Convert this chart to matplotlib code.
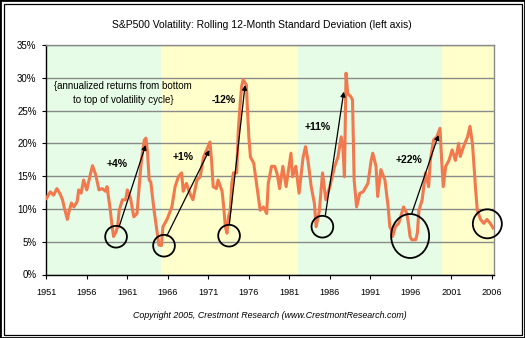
import matplotlib
matplotlib.use("Agg")
import matplotlib.pyplot as plt
from matplotlib.patches import Ellipse, Rectangle

plt.rcParams['font.family'] = ['Liberation Sans', 'DejaVu Sans']

# ---- data ----
years = [1951.0, 1951.5, 1951.9, 1952.3, 1952.7, 1953.0, 1953.2, 1953.6, 1953.8, 1954.1,
         1954.4, 1954.8, 1955.0, 1955.3, 1955.6, 1956.0, 1956.5, 1956.7, 1956.9, 1957.1,
         1957.5, 1957.9, 1958.3, 1958.5, 1958.9, 1959.1, 1959.3, 1959.6, 1959.8, 1960.0,
         1960.4, 1960.8, 1961.0, 1961.4, 1961.8, 1962.2, 1962.4, 1962.6, 1962.8, 1963.1,
         1963.3, 1963.5, 1963.7, 1963.9, 1964.3, 1964.7, 1964.9, 1965.2, 1965.4, 1965.9,
         1966.5, 1966.9, 1967.3, 1967.7, 1967.9, 1968.3, 1968.7, 1969.1, 1969.6, 1970.0,
         1970.4, 1970.8, 1971.2, 1971.4, 1971.6, 1972.0, 1972.2, 1972.7, 1972.9, 1973.1,
         1973.3, 1973.5, 1973.7, 1973.9, 1974.1, 1974.5, 1974.7, 1974.9, 1975.1, 1975.3,
         1975.7, 1975.8, 1976.0, 1976.2, 1976.6, 1977.0, 1977.4, 1977.8, 1978.2, 1978.4,
         1978.8, 1979.2, 1979.5, 1979.8, 1980.2, 1980.6, 1981.2, 1981.4, 1981.8, 1982.2,
         1982.7, 1983.0, 1983.3, 1983.7, 1984.1, 1984.3, 1984.7, 1985.1, 1985.5, 1986.0,
         1986.6, 1987.0, 1987.4, 1987.6, 1987.8, 1988.0, 1988.2, 1988.6, 1988.8, 1989.0,
         1989.3, 1989.7, 1990.1, 1990.7, 1991.1, 1991.3, 1991.7, 1991.9, 1992.3, 1992.8,
         1993.2, 1993.4, 1993.6, 1993.75, 1994.1, 1994.5, 1995.1, 1995.5, 1995.7, 1995.9,
         1996.1, 1996.6, 1996.8, 1997.0, 1997.4, 1997.8, 1998.2, 1998.4, 1998.8, 1999.2,
         1999.6, 1999.8, 2000.0, 2000.3, 2000.7, 2001.1, 2001.5, 2001.9, 2002.1, 2002.5,
         2003.0, 2003.3, 2003.6, 2003.8, 2004.0, 2004.2, 2004.6, 2005.0, 2005.4, 2005.8,
         2006.15]
volatility = [11.6, 12.6, 12.1, 13.1, 12.3, 11.4, 10.3, 8.4, 9.6, 10.9,
              10.3, 11.1, 12.9, 12.4, 14.4, 12.9, 15.6, 16.6, 15.9, 15.2,
              12.9, 13.1, 12.7, 13.4, 9.8, 7.6, 5.8, 6.5, 7.3, 9.8,
              11.4, 11.4, 12.9, 11.6, 8.8, 9.3, 12.4, 15.5, 18.0, 20.5,
              20.8, 18.5, 14.4, 14.1, 9.8, 6.3, 4.5, 4.4, 7.3, 8.4,
              10.3, 13.4, 14.9, 15.5, 12.7, 13.9, 12.4, 11.4, 14.4, 14.9,
              17.9, 19.0, 20.2, 17.4, 13.4, 13.1, 14.4, 12.7, 10.3, 7.3,
              6.3, 8.9, 9.7, 13.9, 15.5, 15.5, 22.0, 25.5, 28.6, 29.7,
              28.9, 26.0, 21.0, 17.9, 17.0, 13.4, 9.8, 10.3, 9.3, 13.9,
              16.5, 16.5, 15.3, 13.1, 16.5, 13.4, 18.5, 14.9, 16.5, 12.4,
              17.9, 19.5, 17.4, 13.4, 10.8, 7.3, 9.7, 15.5, 11.4, 13.4,
              16.5, 17.9, 21.0, 19.5, 14.9, 30.7, 27.6, 27.1, 26.6, 14.4,
              10.3, 12.4, 12.6, 13.9, 17.4, 18.5, 16.5, 11.9, 16.0, 14.4,
              10.3, 7.3, 6.8, 5.8, 7.3, 7.8, 10.3, 9.3, 7.8, 5.8,
              5.3, 5.3, 6.3, 9.8, 11.4, 15.5, 13.4, 17.4, 20.5, 21.0,
              22.3, 17.4, 13.4, 16.5, 17.4, 19.0, 17.4, 20.0, 18.0, 19.5,
              21.0, 22.6, 20.0, 16.5, 12.9, 9.8, 8.4, 7.8, 8.4, 7.8,
              7.1]

x_ticks = [1951, 1956, 1961, 1966, 1971, 1976, 1981, 1986, 1991, 1996, 2001, 2006]
y_ticks = [0, 5, 10, 15, 20, 25, 30, 35]

# secular market periods (background bands)
band_edges = [1951, 1965.13, 1982.12, 1999.86, 2006.3]
band_colors = ['#E6FCE6', '#FFFFCC', '#E6FCE6', '#FFFFCC']

# annotations: (label, x, y)
return_labels = [('+4%', 1959.69, 16.9), ('+1%', 1967.88, 17.9), ('-12%', 1972.94, 26.6),
                 ('+11%', 1984.51, 22.45), ('+22%', 1995.79, 17.5)]
# arrows: (tail_x, tail_y, head_x, head_y)
arrows = [(1959.99, 7.29, 1963.27, 19.75), (1965.87, 5.87, 1971.13, 18.99),
          (1973.60, 7.70, 1975.54, 28.9), (1985.45, 9.07, 1987.72, 27.88),
          (1996.12, 9.33, 1999.41, 21.27)]
# circles: (center_x, center_y, width_years, height_pct)
circles = [(1959.61, 5.76, 2.68, 3.31), (1965.53, 4.39, 2.68, 3.31),
           (1973.56, 5.92, 2.68, 3.31), (1985.08, 7.29, 2.68, 3.31),
           (1995.91, 5.87, 4.69, 6.71), (2005.44, 7.73, 3.58, 4.42)]

# ---- figure ----
W, H = 525, 338
fig = plt.figure(figsize=(W / 100, H / 100), dpi=100)
fig.patch.set_facecolor('white')

L, R, T, B = 46.3, 494.3, 45.0, 274.5
ax = fig.add_axes([L / W, (H - B) / H, (R - L) / W, (B - T) / H])

for i, c in enumerate(band_colors):
    ax.axvspan(band_edges[i], band_edges[i + 1], color=c, lw=0, zorder=0)

ax.set_xlim(1951, 2006.3)
ax.set_ylim(0, 35)
ax.set_yticks(y_ticks)
ax.set_yticklabels([f'{v}%' for v in y_ticks], fontsize=7)
ax.set_xticks(x_ticks)
ax.set_xticklabels([str(v) for v in x_ticks], fontsize=6.6)
ax.tick_params(axis='x', length=3, width=0.8, pad=6.5, colors='black')
ax.tick_params(axis='y', length=3, width=0.8, pad=4, colors='black')
ax.yaxis.grid(True, color='#8a8a8a', lw=1.0, zorder=1)
ax.set_axisbelow(True)
for s in ['top', 'right']:
    ax.spines[s].set_color('#8a8a8a')
    ax.spines[s].set_linewidth(1.0)
for s in ['left', 'bottom']:
    ax.spines[s].set_color('black')
    ax.spines[s].set_linewidth(1.0)

ax.plot(years, volatility, color='#F2794E', lw=2.2, zorder=3, solid_joinstyle='round')

for (tx, ty, hx, hy) in arrows:
    ax.annotate('', xy=(hx, hy), xytext=(tx, ty),
                arrowprops=dict(arrowstyle='-|>', color='black', lw=0.9,
                                mutation_scale=7, shrinkA=0, shrinkB=0), zorder=5)
for (cx, cy, w, h) in circles:
    ax.add_patch(Ellipse((cx, cy), w, h, fill=False, ec='black', lw=1.3,
                         zorder=5, clip_on=False))
for (lab, lx, ly) in return_labels:
    ax.text(lx, ly, lab, fontsize=7.5, fontweight='bold', ha='center', va='center', zorder=6)

ax.text(1960.5, 27.7, '{annualized returns from bottom\nto top of volatility cycle}',
        fontsize=7, ha='center', va='center', linespacing=1.5, zorder=6)

fig.text(261.7 / W, 1 - 25 / H,
         'S&P500 Volatility: Rolling 12-Month Standard Deviation (left axis)',
         ha='center', va='center', fontsize=7.5)
fig.text(270 / W, 1 - 315.7 / H,
         'Copyright 2005, Crestmont Research (www.CrestmontResearch.com)',
         ha='center', va='center', fontsize=6.4, style='italic')

# double frame around the chart
fig.patches.append(Rectangle((0, 0), 1, 1, transform=fig.transFigure, fill=False,
                             ec='black', lw=2.0))
fig.patches.append(Rectangle((3.5 / W, 3.5 / H), 1 - 7 / W, 1 - 7 / H,
                             transform=fig.transFigure, fill=False, ec='black', lw=0.9))

fig.savefig('out.png', dpi=100)
